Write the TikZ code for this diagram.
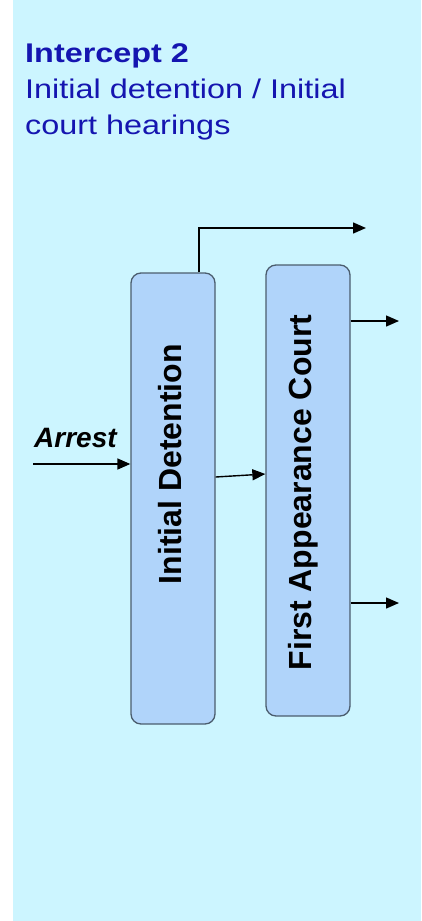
\documentclass[tikz,border=0pt]{standalone}
\usepackage{fontspec}
\setmainfont{Liberation Sans}
\newfontfamily\titlefont{Liberation Sans}[FakeStretch=1.2]
\usepackage{tikz}
\usetikzlibrary{positioning, arrows.meta, calc}
\usepackage{xcolor}
\definecolor{bgcyan}{HTML}{CCF5FF}
\definecolor{boxfill}{HTML}{B0D4FA}
\definecolor{boxedge}{HTML}{4B5D6E}
\definecolor{titleblue}{HTML}{1515B0}

\begin{document}
\begin{tikzpicture}[
      x=1pt, y=-1pt,
      stagebox/.style={draw=boxedge, line width=1.3pt, rounded corners=10pt, fill=boxfill, minimum width=84pt, minimum height=451pt, inner sep=0pt},
      stagelbl/.style={rotate=90, inner sep=0pt, font=\fontsize{32}{38}\selectfont\bfseries},
      ttl/.style={anchor=base west, inner sep=0pt, text=titleblue, font=\titlefont\fontsize{27}{36}\selectfont},
      flow/.style={line width=1.4pt, -{Triangle[length=13pt, width=11pt]}},
    ]
    \useasboundingbox (0,0) rectangle (422,921);
    \fill[bgcyan] (13,0) rectangle (421,921);

    % Heading
    \node[ttl, font=\titlefont\fontsize{27}{36}\selectfont\bfseries] (ttlA) at (25,62) {Intercept 2};
    \node[ttl] (ttlB) at (25,98) {Initial detention / Initial};
    \node[ttl] (ttlC) at (25,134) {court hearings};

    % Stages
    \node[stagebox] (det) at (173,498.5) {};
    \node[stagebox] (fac) at (308,490.5) {};
    \node[stagelbl] (detlbl) at (170,464) {Initial Detention};
    \node[stagelbl] (faclbl) at (303,492.5) {First Appearance Court};

    % Arrest in
    \node[anchor=base west, inner sep=0pt, font=\fontsize{28}{34}\selectfont\bfseries\itshape] (arrest) at (34,447) {Arrest};
    \coordinate (arrestin) at (33,464);
    \draw[flow] (arrestin) -- (arrestin -| det.west);

    % Flows
    \coordinate (release) at (366,228);
    \coordinate (out1) at (399,321);
    \coordinate (out2) at (399,603);
    \draw[flow] ([xshift=26pt]det.north) |- (release);
    \draw[flow] ([yshift=21.5pt]det.east) -- ([yshift=16.5pt]fac.west);
    \draw[flow] (out1 -| fac.east) -- (out1);
    \draw[flow] (out2 -| fac.east) -- (out2);
  \end{tikzpicture}
\end{document}
